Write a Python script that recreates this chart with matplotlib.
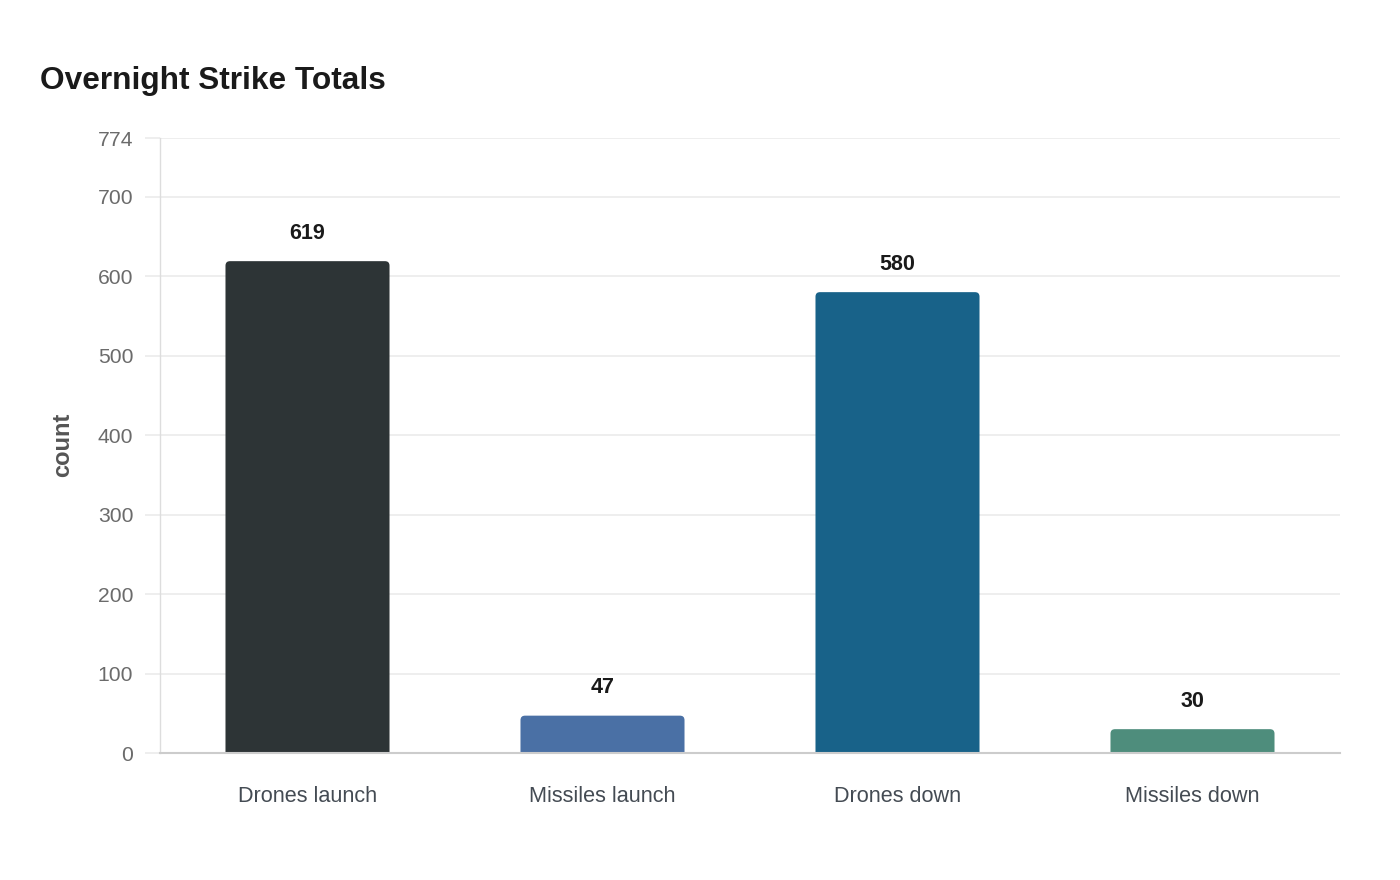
import matplotlib
matplotlib.use("Agg")
import matplotlib.pyplot as plt
from matplotlib.patches import FancyBboxPatch
import numpy as np

categories = ["Drones launch", "Missiles launch", "Drones down", "Missiles down"]
values = [619, 47, 580, 30]
colors = ["#2d3436", "#4a70a5", "#186289", "#4e8d7c"]
yticks = [0, 100, 200, 300, 400, 500, 600, 700, 774]
title = "Overnight Strike Totals"
ylabel = "count"

plt.rcParams['font.family'] = ['Liberation Sans', 'DejaVu Sans']

fig = plt.figure(figsize=(14, 8.8), dpi=100)
ax = fig.add_axes([160/1400, 1-753/880, 1180/1400, 615/880])

ax.set_xlim(-0.5, len(categories) - 0.5)
ax.set_ylim(0, 774)

bw = 0.556
xpx = 1180 / len(categories)   # px per x unit
ypx = 615 / 774                # px per y unit
r = 4.5  # px radius
below = 10 / ypx
for i, (v, c) in enumerate(zip(values, colors)):
    x0 = i - bw / 2
    patch = FancyBboxPatch((x0, -below), bw, v + below,
                           boxstyle=f"round,pad=0,rounding_size={r/xpx}",
                           mutation_aspect=(r/ypx)/(r/xpx),
                           facecolor=c, edgecolor="none", zorder=3,
                           clip_on=True)
    ax.add_patch(patch)
    ax.text(i, v + 28 / ypx, f"{v}", ha="center", va="center",
            fontsize=15.5, fontweight="bold", color="#1a1a1a", zorder=4)

ax.set_xticks(range(len(categories)))
ax.set_xticklabels(categories, fontsize=15.6, color="#444b53")
ax.set_yticks(yticks)
ax.set_yticklabels([str(t) for t in yticks], fontsize=15.2, color="#6b6b6b")

ax.tick_params(axis="x", length=0, pad=24)
ax.tick_params(axis="y", length=10.8, color="#ebebeb", width=1.2, pad=8.5)

ax.grid(axis="y", color="#ebebeb", linewidth=1.2, zorder=0)
ax.set_axisbelow(True)

for s in ["top", "right"]:
    ax.spines[s].set_visible(False)
ax.spines["left"].set_color("#dddddd")
ax.spines["left"].set_linewidth(1)
ax.spines["left"].set_linestyle((0, (1, 1)))
ax.spines["bottom"].set_color("#cccccc")
ax.spines["bottom"].set_linewidth(1.5)
ax.spines["bottom"].set_zorder(5)

fig.text(63/1400, 1-445/880, ylabel, rotation=90, fontsize=17, fontweight="bold",
         color="#555555", ha="center", va="center")

fig.text(40/1400, 1-81.5/880, title, fontsize=22.8, fontweight="bold",
         color="#1a1a1a", ha="left", va="center")

fig.savefig("out.png", dpi=100)
